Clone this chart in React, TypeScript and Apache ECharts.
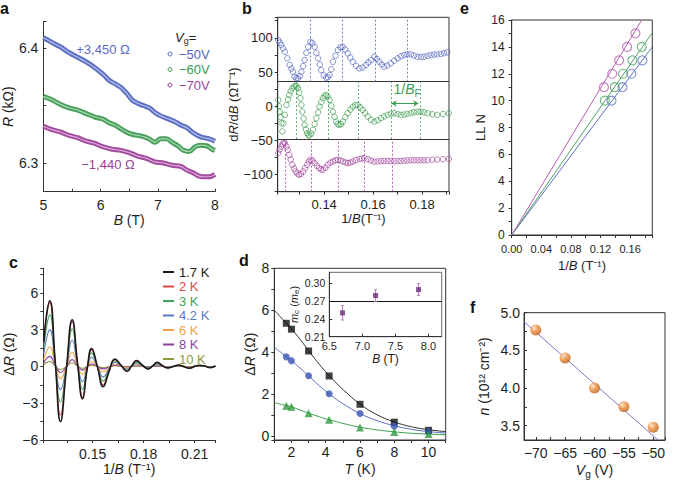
import React, { useEffect, useRef } from "react";
import * as echarts from "echarts";

const FONT = "'Liberation Sans', Arial, Helvetica, sans-serif";
const INK = "#1e1e1e";
const AX = "#333";

// ---------------- panel a : R vs B ----------------
const aVgLabels = ["−50V", "−60V", "−70V"];
const aOffsetLabels = ["+3,450 Ω", "−1,440 Ω"];
const aBlue = [[5.0,6.409],[5.15,6.405],[5.3,6.401],[5.45,6.396],[5.6,6.392],[5.75,6.388],[5.9,6.383],[6.05,6.377],[6.15,6.372],[6.25,6.369],[6.35,6.366],[6.45,6.361],[6.55,6.355],[6.65,6.352],[6.75,6.35],[6.85,6.348],[6.95,6.344],[7.05,6.341],[7.15,6.339],[7.3,6.336],[7.4,6.333],[7.5,6.331],[7.6,6.327],[7.7,6.324],[7.8,6.322],[7.9,6.321],[8.0,6.319]];
const aGreen = [[5.0,6.358],[5.15,6.355],[5.3,6.351],[5.45,6.348],[5.6,6.346],[5.75,6.343],[5.9,6.34],[6.05,6.338],[6.15,6.335],[6.25,6.333],[6.35,6.33],[6.45,6.327],[6.55,6.325],[6.65,6.324],[6.75,6.323],[6.85,6.321],[6.95,6.318],[7.05,6.321],[7.15,6.321],[7.25,6.318],[7.35,6.315],[7.45,6.311],[7.55,6.31],[7.65,6.314],[7.75,6.3155],[7.85,6.315],[7.95,6.312],[8.0,6.311]];
const aPurple = [[5.0,6.332],[5.15,6.329],[5.3,6.327],[5.45,6.324],[5.6,6.322],[5.75,6.319],[5.9,6.317],[6.05,6.314],[6.2,6.312],[6.35,6.311],[6.5,6.309],[6.65,6.306],[6.8,6.304],[6.95,6.301],[7.1,6.3],[7.25,6.298],[7.4,6.297],[7.5,6.294],[7.6,6.292],[7.7,6.289],[7.8,6.288],[7.9,6.288],[8.0,6.29]];

// ---------------- panel b : dR/dB vs 1/B ----------------
const bBlue = [[0.1212,96.6],[0.1219,93],[0.1225,89.4],[0.1232,84.5],[0.1239,79.6],[0.1249,70],[0.1259,60.2],[0.1266,55],[0.1273,50.4],[0.1279,43.1],[0.1286,41],[0.1293,40.8],[0.13,44],[0.1307,50.4],[0.1314,58.5],[0.132,67.5],[0.1327,78],[0.1334,86.9],[0.1344,94.2],[0.1352,92],[0.1361,86.9],[0.1368,78],[0.1375,70],[0.1382,61],[0.1388,52.9],[0.1398,45],[0.1408,41.7],[0.1415,42.5],[0.1422,45.6],[0.1429,54],[0.1436,65],[0.1446,74],[0.1456,82.1],[0.1466,86],[0.1476,86.9],[0.1486,83],[0.1496,77.3],[0.1507,71],[0.1517,65],[0.153,59],[0.1544,55.4],[0.1557,56.5],[0.1571,60.2],[0.1581,64],[0.1591,67.5],[0.1605,72.3],[0.1615,69],[0.1625,65],[0.1635,61],[0.1645,57.7],[0.1658,59.5],[0.1672,62.7],[0.1686,66.5],[0.17,70],[0.1714,73],[0.1727,74.8],[0.174,75.8],[0.1754,75.8],[0.1767,74],[0.1781,72.3],[0.1795,72],[0.1808,72.3],[0.1822,73.5],[0.1835,74.8],[0.1849,75.5],[0.1862,75.8],[0.1876,76.5],[0.189,77.5],[0.1903,78.7]];
const bGreen = [[0.1212,9.2],[0.1215,0],[0.1218,-7.9],[0.1222,-16],[0.1225,-24.8],[0.1229,-37],[0.1234,-25],[0.1239,-12.7],[0.1246,1.9],[0.1252,10],[0.1257,16.5],[0.1263,22],[0.127,26.2],[0.1277,29],[0.1283,30],[0.1288,29],[0.1293,26.2],[0.1298,20],[0.1303,11.6],[0.1307,2],[0.1311,-7.9],[0.1316,-18],[0.132,-27.3],[0.1325,-34],[0.133,-39.4],[0.1335,-42],[0.134,-42.9],[0.1347,-40],[0.1354,-34.6],[0.1361,-26],[0.1368,-17.5],[0.1375,-9],[0.1381,-0.6],[0.1388,6],[0.1395,11.6],[0.1401,15],[0.1408,16.5],[0.1415,14],[0.1422,9.2],[0.1429,1],[0.1436,-7.9],[0.1442,-15.5],[0.1449,-22.5],[0.1455,-26],[0.1462,-27.3],[0.1469,-26],[0.1476,-22.5],[0.1486,-16],[0.1496,-10.2],[0.1507,-5],[0.1517,-0.6],[0.1527,1.5],[0.1537,1.9],[0.1547,-1.5],[0.1557,-5.4],[0.1567,-10],[0.1578,-15.2],[0.1591,-20],[0.1605,-22.5],[0.1618,-20.5],[0.1632,-17.5],[0.1645,-15],[0.1659,-12.7],[0.1672,-11],[0.1686,-10.2],[0.17,-11.5],[0.1713,-12.7],[0.1727,-12.2],[0.174,-11.2],[0.1754,-10],[0.1767,-8.8],[0.1781,-8.2],[0.1794,-7.9],[0.1808,-9],[0.1822,-10.2],[0.1842,-11.8],[0.1862,-12.7],[0.1885,-11.5],[0.1909,-10.2]];
const bPurple = [[0.1212,-68.6],[0.1218,-63],[0.1225,-59],[0.123,-55],[0.1235,-53],[0.124,-54],[0.1246,-59],[0.1251,-64],[0.1257,-71],[0.1263,-78],[0.127,-85.6],[0.1277,-91],[0.1283,-95.4],[0.129,-98.5],[0.1297,-100.2],[0.1305,-99],[0.1314,-95.4],[0.1322,-90.5],[0.133,-85.6],[0.1337,-81],[0.1344,-78.3],[0.1352,-79.5],[0.1361,-83.1],[0.137,-87],[0.1379,-90.4],[0.1387,-92.3],[0.1395,-92.9],[0.1405,-90],[0.1415,-85.6],[0.1425,-82.5],[0.1436,-80.8],[0.1446,-79],[0.1456,-78.3],[0.1466,-79],[0.1476,-80.8],[0.1487,-82.3],[0.1497,-83.1],[0.1507,-82.3],[0.1517,-80.8],[0.153,-78.8],[0.1544,-77.3],[0.1554,-76.5],[0.1564,-75.9],[0.1578,-77.5],[0.1591,-79.5],[0.1605,-81],[0.1618,-80.8],[0.1632,-80.3],[0.1645,-80],[0.1659,-80],[0.1672,-80.3],[0.1686,-80.5],[0.17,-80.2],[0.1713,-80],[0.1727,-79.6],[0.174,-79.3],[0.1754,-79],[0.1767,-79],[0.1781,-79],[0.1794,-79],[0.1808,-79],[0.1822,-79],[0.1842,-78.5],[0.1862,-78],[0.1885,-77.5],[0.1909,-77]];
const bBlueLines = [0.1344, 0.1475, 0.1607, 0.1738];
const bGreenLines = [0.1286, 0.1415, 0.1541, 0.1672, 0.1792];
const bPurpleLines = [0.1239, 0.1347, 0.1456, 0.1564, 0.1677];
const bDividers = [35.8, -48.1];
const bArrow = [[0.1675, 4], [0.1785, 4]];

// ---------------- panel c : ΔR vs 1/B ----------------
const cX = [0.1213,0.123,0.1248,0.128,0.1311,0.1345,0.138,0.1411,0.1441,0.1468,0.1494,0.1528,0.1562,0.1597,0.1631,0.1667,0.1703,0.173,0.1758,0.1793,0.1827,0.1853,0.188,0.1912,0.1943,0.1975,0.2005,0.2037,0.2068,0.21,0.213,0.2162,0.2193,0.2222];
const cTemps = ["1.7 K", "2 K", "3 K", "4.2 K", "6 K", "8 K", "10 K"];
const c17 = [2.0,4.3,5.35,0.4,-4.5,-0.3,3.8,0.3,-2.65,-0.2,1.45,0.0,-1.65,-0.4,0.6,0.1,-0.42,0.05,0.48,0.1,-0.2,0.05,0.33,0.05,-0.12,0.0,0.12,-0.02,-0.15,0.0,0.1,0.02,-0.1,0.05];
const c2 = [1.9,4.15,5.2,0.4,-3.95,-0.25,3.65,0.3,-2.5,-0.2,1.35,0.0,-1.5,-0.35,0.55,0.1,-0.4,0.05,0.42,0.08,-0.2,0.04,0.28,0.04,-0.12,0.0,0.1,-0.02,-0.13,0.0,0.08,0.02,-0.09,0.04];
const c3 = [1.5,3.3,4.2,0.35,-2.9,-0.2,3.05,0.25,-1.9,-0.15,1.1,0.0,-1.2,-0.25,0.45,0.08,-0.3,0.04,0.33,0.06,-0.15,0.03,0.2,0.03,-0.1,0.0,0.08,-0.02,-0.1,0.0,0.06,0.01,-0.07,0.03];
const c42 = [1.0,2.35,3.0,0.25,-1.9,-0.15,2.15,0.2,-1.25,-0.1,0.75,0.0,-0.85,-0.18,0.32,0.05,-0.22,0.03,0.22,0.04,-0.1,0.02,0.12,0.02,-0.07,0.0,0.05,-0.01,-0.07,0.0,0.04,0.01,-0.05,0.02];
const c6 = [0.55,1.25,1.6,0.15,-1.0,-0.08,1.15,0.1,-0.65,-0.05,0.4,0.0,-0.45,-0.1,0.18,0.03,-0.12,0.02,0.12,0.02,-0.06,0.01,0.07,0.01,-0.04,0.0,0.03,0.0,-0.04,0.0,0.02,0.0,-0.03,0.01];
const c8 = [0.3,0.65,0.82,0.08,-0.5,-0.04,0.55,0.05,-0.3,-0.03,0.2,0.0,-0.2,-0.05,0.1,0.02,-0.06,0.01,0.06,0.01,-0.03,0.0,0.04,0.0,-0.02,0.0,0.02,0.0,-0.02,0.0,0.01,0.0,-0.02,0.0];
const c10 = [0.15,0.32,0.4,0.04,-0.25,-0.02,0.3,0.03,-0.15,-0.01,0.1,0.0,-0.1,-0.02,0.05,0.01,-0.03,0.0,0.03,0.0,-0.02,0.0,0.02,0.0,-0.01,0.0,0.01,0.0,-0.01,0.0,0.01,0.0,-0.01,0.0];
const cValues = [c17, c2, c3, c42, c6, c8, c10];
const cColors = ["#1a1a1a", "#e0473f", "#3aa55a", "#5b79c9", "#f2a247", "#8a3f9e", "#8c9a3a"];

// ---------------- panel d : ΔR vs T ----------------
const dT = [1.7, 2, 3, 4.2, 6, 8, 10];
const dSquares = [5.38, 5.1, 4.06, 2.87, 1.52, 0.67, 0.28];
const dCircles = [3.78, 3.6, 2.88, 2.02, 1.08, 0.48, 0.22];
const dTriangles = [1.45, 1.4, 1.1, 0.78, 0.42, 0.2, 0.1];
const dFitT = [1, 1.5, 2, 2.5, 3, 3.5, 4, 4.5, 5, 6, 7, 8, 9, 10, 11];
const dFitBlack = [6.0, 5.56, 5.12, 4.62, 4.08, 3.55, 3.07, 2.63, 2.23, 1.53, 1.02, 0.68, 0.45, 0.31, 0.22];
const dFitBlue = [4.25, 3.92, 3.6, 3.25, 2.88, 2.5, 2.15, 1.83, 1.55, 1.08, 0.74, 0.5, 0.33, 0.22, 0.15];
const dFitGreen = [1.6, 1.5, 1.4, 1.25, 1.1, 0.96, 0.83, 0.72, 0.61, 0.43, 0.3, 0.21, 0.14, 0.1, 0.07];
// inset
const insetB = [6.7, 7.2, 7.85];
const insetM = [0.25, 0.279, 0.289];
const insetErr = [0.012, 0.01, 0.01];
const insetMean = 0.272;

// ---------------- panel e : LL index vs 1/B ----------------
const eBlueX = [0.1349, 0.1497, 0.1618, 0.1766];
const eBlueN = [10, 11, 12, 13];
const eGreenX = [0.1259, 0.1394, 0.1505, 0.1632, 0.1757];
const eGreenN = [10, 11, 12, 13, 14];
const ePurpleX = [0.1246, 0.1358, 0.1452, 0.1559, 0.1672];
const ePurpleN = [11, 12, 13, 14, 15];
const eBlueFit = [[0, 0], [0.19, 14.0]];
const eGreenFit = [[0, 0], [0.19, 15.05]];
const ePurpleFit = [[0, 0], [0.1758, 16]];

// ---------------- panel f : n vs Vg ----------------
const fVg = [-70, -65, -60, -55, -50];
const fN = [4.77, 4.4, 4.0, 3.75, 3.48];
const fFit = [[-72, 4.88], [-49.2, 3.31]];

const BLUE = "#5466bd";
const GREEN = "#3d9c50";
const PURPLE = "#a0449c";

const near = (v: number, step: number) => Math.abs(v / step - Math.round(v / step)) < 1e-6;
const minus = (s: string) => s.replace("-", "−");

const rich = (fs: number) => ({
  i: { fontStyle: "italic", fontSize: fs, fontFamily: FONT, color: INK },
  sub: { fontSize: Math.round(fs * 0.72), fontFamily: FONT, color: INK, padding: [Math.round(fs * 0.55), 0, 0, 0] },
});

function axis(o: any) {
  const fs = o.fs ?? 14;
  const nfs = o.nfs ?? fs;
  return {
    type: "value",
    gridIndex: o.grid,
    min: o.min,
    max: o.max,
    interval: o.interval,
    minInterval: o.force,
    maxInterval: o.force,
    name: o.name,
    nameLocation: "middle",
    nameGap: o.gap,
    nameTextStyle: { color: INK, fontSize: nfs, fontFamily: FONT, rich: rich(nfs) },
    axisLine: { onZero: false, lineStyle: { color: AX, width: 1 } },
    axisTick: { show: true, inside: !!o.inside, length: 3, lineStyle: { color: AX, width: 1 } },
    splitLine: { show: false },
    axisLabel: {
      color: INK,
      fontSize: fs,
      fontFamily: FONT,
      margin: o.margin ?? 5,
      formatter: o.fmt,
      hideOverlap: false,
    },
  };
}

function buildOption() {
  const lineBand = (data: number[][], color: string, name: string) => [
    {
      name,
      type: "line",
      xAxisIndex: 0,
      yAxisIndex: 0,
      data,
      smooth: 0.35,
      showSymbol: false,
      lineStyle: { color, width: 5 },
      itemStyle: { color },
      z: 2,
    },
    {
      type: "line",
      xAxisIndex: 0,
      yAxisIndex: 0,
      data,
      smooth: 0.35,
      showSymbol: false,
      lineStyle: { color: "rgba(255,255,255,0.55)", width: 1.2 },
      z: 3,
      silent: true,
    },
  ];

  const vLines = (xs: number[], y0: number, y1: number, color: string) =>
    xs.map((x) => [
      { coord: [x, y0], lineStyle: { color, type: [2, 2], width: 0.8 } },
      { coord: [x, y1] },
    ]);

  const bScatter = (data: number[][], color: string, name: string, mark: any[]) => ({
    name,
    type: "scatter",
    xAxisIndex: 1,
    yAxisIndex: 1,
    data,
    symbol: "circle",
    symbolSize: 5.5,
    itemStyle: { color: "rgba(255,255,255,0)", borderColor: color, borderWidth: 0.9 },
    markLine: {
      silent: true,
      symbol: ["none", "none"],
      label: { show: false },
      data: mark,
    },
  });

  const series: any[] = [
    ...lineBand(aBlue, "#5d6fc4", aVgLabels[0]),
    ...lineBand(aGreen, "#47a05a", aVgLabels[1]),
    ...lineBand(aPurple, "#a34aa0", aVgLabels[2]),

    bScatter(bBlue, BLUE, "b −50V", [
      { yAxis: bDividers[0], lineStyle: { color: AX, type: "solid", width: 1 } },
      { yAxis: bDividers[1], lineStyle: { color: AX, type: "solid", width: 1 } },
      ...vLines(bBlueLines, bDividers[0], 130, BLUE),
    ]),
    bScatter(bGreen, GREEN, "b −60V", [
      ...vLines(bGreenLines, bDividers[1], bDividers[0], GREEN),
      [
        { coord: bArrow[0], symbol: "arrow", symbolSize: 5, lineStyle: { color: GREEN, type: "solid", width: 1 } },
        { coord: bArrow[1], symbol: "arrow", symbolSize: 5 },
      ],
    ]),
    bScatter(bPurple, PURPLE, "b −70V", [...vLines(bPurpleLines, -125, bDividers[1], PURPLE)]),
  ];

  // panel c: draw hottest first so 1.7 K ends on top
  for (let k = cTemps.length - 1; k >= 0; k--) {
    series.push({
      name: cTemps[k],
      type: "line",
      xAxisIndex: 3,
      yAxisIndex: 3,
      data: cX.map((x, i) => [x, cValues[k][i]]),
      smooth: 0.5,
      symbol: "none",
      lineStyle: { color: cColors[k], width: k === 0 ? 1.6 : 1.1 },
      itemStyle: { color: cColors[k] },
    });
  }

  // panel d
  const fitLine = (vals: number[], color: string) => ({
    type: "line",
    xAxisIndex: 4,
    yAxisIndex: 4,
    data: dFitT.map((t, i) => [t, vals[i]]),
    smooth: 0.4,
    symbol: "none",
    lineStyle: { color, width: 1 },
    silent: true,
  });
  series.push(fitLine(dFitBlack, "#333"), fitLine(dFitBlue, "#5a6fc0"), fitLine(dFitGreen, "#3aa04a"));
  const dMarks = (vals: number[], symbol: string, size: number, color: string) => ({
    type: "scatter",
    xAxisIndex: 4,
    yAxisIndex: 4,
    data: dT.map((t, i) => [t, vals[i]]),
    symbol,
    symbolSize: size,
    itemStyle: { color },
    z: 4,
  });
  series.push(
    dMarks(dSquares, "rect", 7, "#111"),
    dMarks(dCircles, "circle", 7, "#3b55b4"),
    dMarks(dTriangles, "triangle", 8, "#2e9a3d")
  );

  // inset
  series.push({
    type: "custom",
    xAxisIndex: 5,
    yAxisIndex: 5,
    data: insetB.map((b, i) => [b, insetM[i], insetErr[i]]),
    renderItem: (params: any, api: any) => {
      const x = api.value(0);
      const y = api.value(1);
      const e = api.value(2);
      const top = api.coord([x, y + e]);
      const bot = api.coord([x, y - e]);
      const st = { stroke: "#c07ac0", lineWidth: 1 };
      return {
        type: "group",
        children: [
          { type: "line", shape: { x1: top[0], y1: top[1], x2: bot[0], y2: bot[1] }, style: st },
          { type: "line", shape: { x1: top[0] - 1.5, y1: top[1], x2: top[0] + 1.5, y2: top[1] }, style: st },
          { type: "line", shape: { x1: bot[0] - 1.5, y1: bot[1], x2: bot[0] + 1.5, y2: bot[1] }, style: st },
        ],
      };
    },
    z: 5,
  });
  series.push({
    type: "scatter",
    xAxisIndex: 5,
    yAxisIndex: 5,
    data: insetB.map((b, i) => [b, insetM[i]]),
    symbol: "rect",
    symbolSize: 5,
    itemStyle: { color: "#6a2a80" },
    z: 6,
    markLine: {
      silent: true,
      symbol: ["none", "none"],
      label: { show: false },
      lineStyle: { color: "#111", type: "solid", width: 1.2 },
      data: [{ yAxis: insetMean }],
    },
  });

  // panel e
  const eFit = (data: number[][], color: string) => ({
    type: "line",
    xAxisIndex: 2,
    yAxisIndex: 2,
    data,
    symbol: "none",
    lineStyle: { color, width: 1 },
    silent: true,
  });
  const ePts = (xs: number[], ns: number[], color: string) => ({
    type: "scatter",
    xAxisIndex: 2,
    yAxisIndex: 2,
    data: xs.map((x, i) => [x, ns[i]]),
    symbol: "circle",
    symbolSize: 9,
    itemStyle: { color: "rgba(255,255,255,0)", borderColor: color, borderWidth: 1.1 },
  });
  series.push(
    eFit(eBlueFit, "#5c73c4"),
    eFit(eGreenFit, "#4ea363"),
    eFit(ePurpleFit, "#b45fae"),
    ePts(eBlueX, eBlueN, "#5c73c4"),
    ePts(eGreenX, eGreenN, "#4ea363"),
    ePts(ePurpleX, ePurpleN, "#b45fae")
  );

  // panel f
  series.push({
    type: "line",
    xAxisIndex: 6,
    yAxisIndex: 6,
    data: fFit,
    symbol: "none",
    lineStyle: { color: "#8076c4", width: 1 },
    silent: true,
  });
  series.push({
    type: "scatter",
    xAxisIndex: 6,
    yAxisIndex: 6,
    data: fVg.map((v, i) => [v, fN[i]]),
    symbol: "circle",
    symbolSize: 11,
    itemStyle: {
      color: new echarts.graphic.RadialGradient(0.35, 0.32, 0.75, [
        { offset: 0, color: "#fde3c2" },
        { offset: 0.45, color: "#ee8d3a" },
        { offset: 1, color: "#b85a14" },
      ]),
    },
    z: 4,
  });

  const letter = (t: string, x: number, y: number) => ({
    type: "text",
    x,
    y,
    style: {
      text: t,
      fontSize: 16,
      fontWeight: "bold",
      fontFamily: FONT,
      fill: "#111",
      align: "left",
      verticalAlign: "middle",
      textAlign: "left",
      textVerticalAlign: "middle",
    },
  });
  const txt = (t: string, x: number, y: number, color: string, fs: number, align = "center", richObj?: any) => ({
    type: "text",
    x,
    y,
    style: {
      text: t,
      fontSize: fs,
      fontFamily: FONT,
      fill: color,
      align,
      verticalAlign: "middle",
      textAlign: align,
      textVerticalAlign: "middle",
      rich: richObj,
    },
  });
  const legColors = [BLUE, GREEN, PURPLE];
  const legY = [54, 69.5, 85];

  const graphic: any[] = [
    letter("a", 0, 8),
    letter("b", 242, 8),
    letter("e", 460, 8),
    letter("c", 9, 262),
    letter("d", 239, 260),
    letter("f", 470, 307),
    txt(aOffsetLabels[0], 103, 49, "#5b6ac0", 13),
    txt(aOffsetLabels[1], 108, 164, "#9b3f98", 13),
    txt("{i|V}{sub|g}=", 175, 37, INK, 13, "left", {
      i: { fontStyle: "italic", fontSize: 13, fontFamily: FONT, fill: INK, color: INK },
      sub: { fontSize: 9, fontFamily: FONT, padding: [7, 0, 0, 0], color: INK },
    }),
    ...legY.map((y, i) => ({
      type: "circle",
      shape: { cx: 170, cy: y, r: 2 },
      style: { fill: "none", stroke: legColors[i], lineWidth: 1 },
    })),
    ...legY.map((y, i) => txt(aVgLabels[i], 179, y, legColors[i], 13, "left")),
    txt("1/{i|B}{sub|F}", 407, 89, GREEN, 14, "center", {
      i: { fontStyle: "italic", fontSize: 14, fontFamily: FONT, color: GREEN },
      sub: { fontSize: 10, fontFamily: FONT, padding: [8, 0, 0, 0], color: GREEN },
    }),
  ];

  return {
    animation: false,
    backgroundColor: "#fff",
    textStyle: { fontFamily: FONT },
    grid: [
      { left: 43.3, top: 21.7, width: 171.7, height: 170 },
      { left: 277.7, top: 17.3, width: 171.3, height: 174.4, show: true, borderColor: AX, borderWidth: 1 },
      { left: 511.7, top: 20, width: 140.6, height: 215, show: true, borderColor: AX, borderWidth: 1 },
      { left: 43.3, top: 268.3, width: 171.7, height: 171.7 },
      { left: 274.3, top: 268.3, width: 171.4, height: 171.7, show: true, borderColor: AX, borderWidth: 1 },
      { left: 329.3, top: 272.3, width: 112.4, height: 64.4, show: true, borderColor: "#666", borderWidth: 1, backgroundColor: "#fff" },
      { left: 524, top: 312.7, width: 141, height: 127.3, show: true, borderColor: AX, borderWidth: 1 },
    ],
    xAxis: [
      axis({ grid: 0, min: 5, max: 8, interval: 0.5, name: "{i|B} (T)", gap: 21, margin: 6, inside: true, fmt: (v: number) => (near(v, 1) ? String(v) : "") }),
      axis({ grid: 1, min: 0.121, max: 0.191, force: 0.01, fs: 13, name: "1/{i|B}(T⁻¹)", gap: 19, margin: 6, fmt: (v: number) => (near(v, 0.02) ? v.toFixed(2) : "") }),
      axis({ grid: 2, min: 0, max: 0.19, interval: 0.02, fs: 11, nfs: 13, name: "1/{i|B} (T⁻¹)", gap: 24, margin: 8, fmt: (v: number) => (near(v, 0.04) ? v.toFixed(2) : "") }),
      axis({ grid: 3, min: 0.121, max: 0.222, force: 0.015, name: "1/{i|B} (T⁻¹)", gap: 22, margin: 7, fmt: (v: number) => (near(v, 0.03) ? v.toFixed(2) : "") }),
      axis({ grid: 4, min: 1, max: 11, interval: 1, name: "{i|T} (K)", gap: 22, margin: 5, fmt: (v: number) => (near(v, 2) ? String(v) : "") }),
      axis({ grid: 5, min: 6.5, max: 8.2, interval: 0.5, fs: 11, nfs: 12, name: "{i|B} (T)", gap: 15, margin: 4, inside: true, fmt: (v: number) => v.toFixed(1) }),
      axis({ grid: 6, min: -72, max: -48, force: 2.5, name: "{i|V}{sub|g} (V)", gap: 21, margin: 6, inside: true, fmt: (v: number) => (near(v, 5) ? minus(String(v)) : "") }),
    ],
    yAxis: [
      axis({ grid: 0, min: 6.275, max: 6.423, force: 0.05, name: "{i|R} (kΩ)", gap: 28, margin: 5, inside: true, fmt: (v: number) => (near(v, 0.1) ? v.toFixed(1) : "") }),
      axis({ grid: 1, min: -125, max: 130, interval: 25, fs: 13, name: "d{i|R}/d{i|B} (ΩT⁻¹)", gap: 36, margin: 5, fmt: (v: number) => (near(v, 50) ? minus(String(v)) : "") }),
      axis({ grid: 2, min: 0, max: 16, interval: 1, fs: 12, nfs: 13, name: "LL N", gap: 25, margin: 7, fmt: (v: number) => (near(v, 2) ? String(v) : "") }),
      axis({ grid: 3, min: -6, max: 8, interval: 1.5, name: "Δ{i|R} (Ω)", gap: 27, margin: 5, fmt: (v: number) => (near(v, 3) ? minus(String(Math.round(v))) : "") }),
      axis({ grid: 4, min: -0.18, max: 8, force: 1, name: "Δ{i|R} (Ω)", gap: 17, margin: 5, fmt: (v: number) => (near(v, 2) ? String(Math.round(v)) : "") }),
      axis({ grid: 5, min: 0.21, max: 0.318, interval: 0.03, fs: 10.5, nfs: 11, name: "{i|m}{sub|c} ({i|m}{sub|e})", gap: 24, margin: 4, inside: true, fmt: (v: number) => v.toFixed(2) }),
      axis({ grid: 6, min: 3.31, max: 5, force: 0.25, name: "{i|n} (10¹² cm⁻²)", gap: 33, margin: 4, inside: true, fmt: (v: number) => (near(v, 0.5) ? v.toFixed(1) : "") }),
    ],
    legend: {
      orient: "vertical",
      left: 163,
      top: 265,
      padding: 0,
      itemWidth: 11,
      itemHeight: 2,
      itemGap: 0.5,
      icon: "rect",
      selectedMode: false,
      textStyle: { fontSize: 13, fontFamily: FONT, lineHeight: 14 },
      data: cTemps.map((n, i) => ({ name: n, textStyle: { color: cColors[i] } })),
    },
    series,
    graphic,
  };
}

export default function App() {
  const ref = useRef<HTMLDivElement>(null);
  useEffect(() => {
    if (!ref.current) return;
    const chart = echarts.init(ref.current, undefined, { renderer: "svg" });
    chart.setOption(buildOption() as any);
    return () => chart.dispose();
  }, []);
  return (
    <div
      ref={ref}
      style={{ position: "fixed", left: 0, top: 0, width: 685, height: 486, background: "#fff" }}
    />
  );
}
